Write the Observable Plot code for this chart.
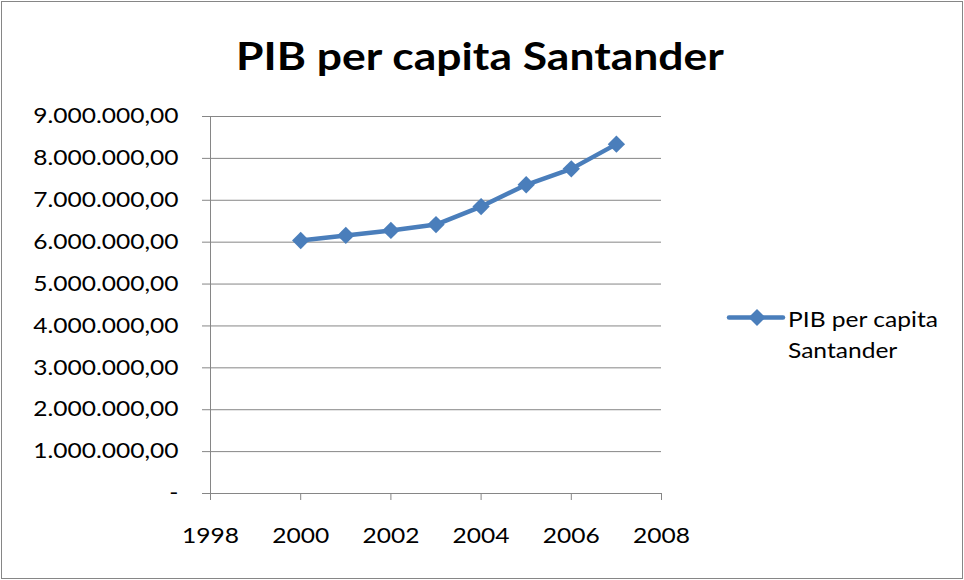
<!DOCTYPE html>
<html>
<head>
<meta charset="utf-8">
<script src="https://cdn.jsdelivr.net/npm/d3@7"></script>
<script src="https://cdn.jsdelivr.net/npm/@observablehq/plot@0.6"></script>
<style>
  html, body { margin: 0; padding: 0; background: #fff; }
  #wrap { position: relative; width: 964px; height: 580px; overflow: hidden; font-family: Lato, "Open Sans", sans-serif; color: #000; }
  #frame { position: absolute; left: 1px; top: 1px; width: 960px; height: 576px; border: 1px solid #868686; box-sizing: content-box; }
  #title { position: absolute; left: -2px; top: 36px; width: 964px; text-align: center; font-weight: bold; font-size: 38px; line-height: 1; transform: scaleX(1.17); transform-origin: 50% 50%; white-space: nowrap; }
  #chart { position: absolute; left: 0; top: 0; }
  #legendKey { position: absolute; left: 726px; top: 307px; }
  #legendTxt { position: absolute; left: 788px; top: 303px; font-size: 21px; line-height: 31px; white-space: nowrap; transform: scaleX(1.17); transform-origin: 0 0; }
</style>
</head>
<body>
<div id="wrap">
  <div id="frame"></div>
  <div id="chart"></div>
  <div id="title">PIB per capita Santander</div>
  <svg id="legendKey" width="60" height="22"><line x1="3" y1="10.5" x2="57" y2="10.5" stroke="#4a7ebb" stroke-width="4.5" stroke-linecap="round"/><path d="M31,2 L39.5,10.5 L31,19 L22.5,10.5 Z" fill="#4a7ebb"/></svg>
  <div id="legendTxt">PIB per capita<br>Santander</div>
</div>
<script>
const seriesName = "PIB per capita Santander";
const years = [2000, 2001, 2002, 2003, 2004, 2005, 2006, 2007];
const values = [6040000, 6160000, 6280000, 6420000, 6850000, 7370000, 7750000, 8340000];
const yTicks = [0, 1000000, 2000000, 3000000, 4000000, 5000000, 6000000, 7000000, 8000000, 9000000];
const xTicks = [1998, 2000, 2002, 2004, 2006, 2008];

const data = years.map((y, i) => ({year: y, value: values[i]}));
const fmtY = v => v === 0 ? "-" : d3.format(",.2f")(v).replace(/,/g, "#").replace(/\./g, ",").replace(/#/g, ".");

const chart = Plot.plot({
  width: 964,
  height: 580,
  marginLeft: 210,
  marginRight: 303,
  marginTop: 116,
  marginBottom: 87,
  style: {fontFamily: "Lato, 'Open Sans', sans-serif", fontSize: "21px", color: "#000", background: "transparent"},
  x: {domain: [1998, 2008], label: null},
  y: {domain: [0, 9000000], label: null},
  marks: [
    Plot.ruleY(yTicks, {stroke: "#868686", strokeWidth: 1, strokeOpacity: 1}),
    Plot.ruleX([1998], {stroke: "#868686", strokeWidth: 1}),
    Plot.axisY({ticks: yTicks, tickFormat: fmtY, tickSize: 8, tickPadding: 24, stroke: "#868686", strokeOpacity: 1, fill: "#000", label: null}),
    Plot.axisX({ticks: xTicks, tickFormat: d => String(d), tickSize: 7, tickPadding: 28, stroke: "#868686", strokeOpacity: 1, fill: "#000", label: null}),
    Plot.line(data, {x: "year", y: "value", stroke: "#4a7ebb", strokeWidth: 4.5, strokeLinejoin: "round"}),
    Plot.dot(data, {x: "year", y: "value", symbol: "diamond2", r: 7.8, fill: "#4a7ebb", stroke: "none", title: () => seriesName})
  ]
});
// widen tick label glyphs horizontally around their anchor, as in the reference
chart.querySelectorAll('g[aria-label$="tick label"] text').forEach(t => {
  const tr = t.getAttribute("transform");
  if (tr) t.setAttribute("transform", tr + " scale(1.17,1)");
});
document.getElementById("chart").appendChild(chart);
</script>
</body>
</html>
